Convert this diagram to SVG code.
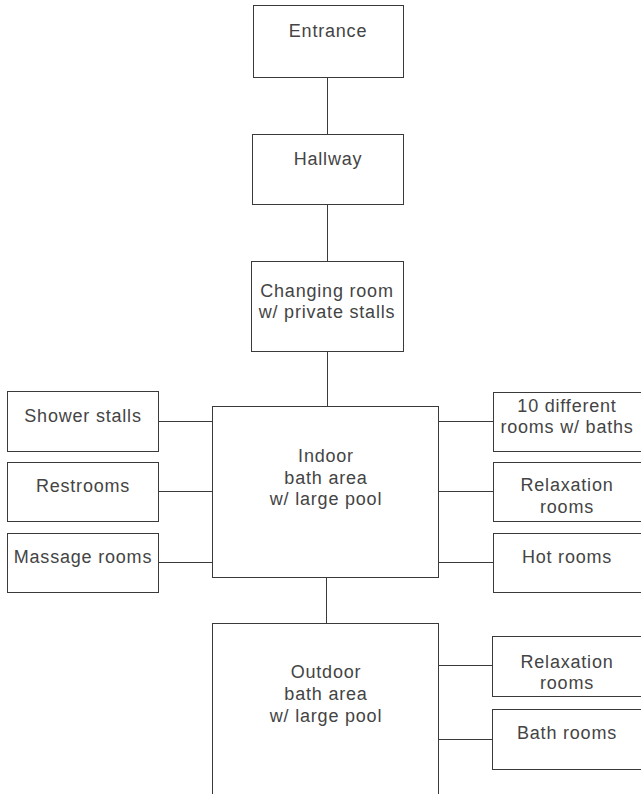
<svg xmlns="http://www.w3.org/2000/svg" width="641" height="794" viewBox="0 0 641 794">
  <style>
    .box { fill: #ffffff; stroke: #3a3a3a; stroke-width: 1; }
    .edge { stroke: #3a3a3a; stroke-width: 1; fill: none; }
    text { font-family: "Liberation Sans", Arial, sans-serif; font-size: 18px; letter-spacing: 0.8px; fill: #444444; text-anchor: middle; }
  </style>
  <rect width="641" height="794" fill="#ffffff"/>

  <g id="connectors">
    <line class="edge" x1="327.5" y1="77" x2="327.5" y2="134"/>
    <line class="edge" x1="327.5" y1="204" x2="327.5" y2="261"/>
    <line class="edge" x1="327.5" y1="351" x2="327.5" y2="406"/>
    <line class="edge" x1="158" y1="421.5" x2="212" y2="421.5"/>
    <line class="edge" x1="158" y1="491.5" x2="212" y2="491.5"/>
    <line class="edge" x1="158" y1="562.5" x2="212" y2="562.5"/>
    <line class="edge" x1="438" y1="421.5" x2="493" y2="421.5"/>
    <line class="edge" x1="438" y1="491.5" x2="493" y2="491.5"/>
    <line class="edge" x1="438" y1="562.5" x2="493" y2="562.5"/>
    <line class="edge" x1="326.5" y1="577" x2="326.5" y2="623"/>
    <line class="edge" x1="438" y1="665.5" x2="492" y2="665.5"/>
    <line class="edge" x1="438" y1="739.5" x2="492" y2="739.5"/>
  </g>

  <g id="entrance">
    <rect class="box" x="253.5" y="5.5" width="150" height="72"/>
    <text x="328" y="37">Entrance</text>
  </g>
  <g id="hallway">
    <rect class="box" x="252.5" y="134.5" width="151" height="70"/>
    <text x="328" y="165">Hallway</text>
  </g>
  <g id="changing-room">
    <rect class="box" x="251.5" y="261.5" width="152" height="90"/>
    <text x="327" y="297">Changing room<tspan x="327" dy="21">w/ private stalls</tspan></text>
  </g>

  <g id="indoor-bath">
    <rect class="box" x="212.5" y="406.5" width="226" height="171"/>
    <text x="326" y="462">Indoor<tspan x="326" dy="21.5">bath area</tspan><tspan x="326" dy="21.5">w/ large pool</tspan></text>
  </g>

  <g id="shower-stalls">
    <rect class="box" x="7.5" y="391.5" width="151" height="60"/>
    <text x="83" y="422">Shower stalls</text>
  </g>
  <g id="restrooms">
    <rect class="box" x="7.5" y="462.5" width="151" height="59"/>
    <text x="83" y="492">Restrooms</text>
  </g>
  <g id="massage-rooms">
    <rect class="box" x="7.5" y="533.5" width="151" height="59"/>
    <text x="83" y="563">Massage rooms</text>
  </g>

  <g id="ten-rooms">
    <rect class="box" x="493.5" y="392.5" width="150" height="59"/>
    <text x="567" y="412">10 different<tspan x="567" dy="21">rooms w/ baths</tspan></text>
  </g>
  <g id="relaxation-indoor">
    <rect class="box" x="493.5" y="462.5" width="150" height="59"/>
    <text x="567" y="491">Relaxation<tspan x="567" dy="22">rooms</tspan></text>
  </g>
  <g id="hot-rooms">
    <rect class="box" x="493.5" y="533.5" width="150" height="59"/>
    <text x="567" y="563">Hot rooms</text>
  </g>

  <g id="outdoor-bath">
    <rect class="box" x="212.5" y="623.5" width="226" height="200"/>
    <text x="326" y="678">Outdoor<tspan x="326" dy="22">bath area</tspan><tspan x="326" dy="22">w/ large pool</tspan></text>
  </g>
  <g id="relaxation-outdoor">
    <rect class="box" x="492.5" y="636.5" width="151" height="60"/>
    <text x="567" y="668">Relaxation<tspan x="567" dy="21">rooms</tspan></text>
  </g>
  <g id="bath-rooms">
    <rect class="box" x="492.5" y="709.5" width="151" height="60"/>
    <text x="567" y="739">Bath rooms</text>
  </g>
</svg>
